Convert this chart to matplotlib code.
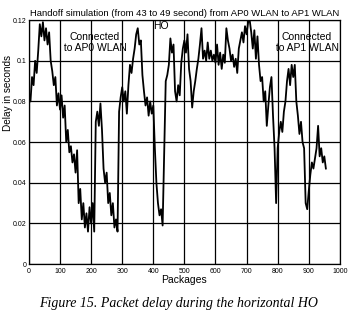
import numpy as np
import matplotlib
matplotlib.use("Agg")
import matplotlib.pyplot as plt

# packet index (every 5th package) and delay
packages = np.arange(0, 960, 5)
delay = [
    0.082, 0.080, 0.092, 0.088, 0.100, 0.094, 0.105, 0.118, 0.112, 0.119,
    0.110, 0.116, 0.108, 0.114, 0.100, 0.095, 0.088, 0.092, 0.078, 0.084,
    0.076, 0.083, 0.072, 0.078, 0.060, 0.066, 0.055, 0.058, 0.050, 0.054,
    0.045, 0.056, 0.030, 0.037, 0.022, 0.030, 0.018, 0.025, 0.016, 0.028,
    0.020, 0.030, 0.016, 0.070, 0.075, 0.068, 0.079, 0.066, 0.047, 0.040,
    0.045, 0.030, 0.035, 0.024, 0.030, 0.018, 0.022, 0.016, 0.075, 0.082,
    0.087, 0.080, 0.085, 0.074, 0.088, 0.098, 0.094, 0.101, 0.106, 0.113,
    0.116, 0.108, 0.110, 0.093, 0.085, 0.078, 0.082, 0.073, 0.080, 0.074,
    0.078, 0.057, 0.040, 0.030, 0.024, 0.027, 0.019, 0.054, 0.090, 0.093,
    0.098, 0.111, 0.104, 0.108, 0.085, 0.080, 0.088, 0.083, 0.099, 0.106,
    0.110, 0.104, 0.113, 0.096, 0.090, 0.077, 0.085, 0.090, 0.096, 0.101,
    0.108, 0.116, 0.101, 0.105, 0.100, 0.109, 0.101, 0.105, 0.100, 0.103,
    0.099, 0.108, 0.098, 0.104, 0.096, 0.103, 0.099, 0.116, 0.110, 0.106,
    0.100, 0.103, 0.097, 0.101, 0.094, 0.106, 0.110, 0.114, 0.109, 0.117,
    0.113, 0.119, 0.120, 0.114, 0.106, 0.115, 0.101, 0.112, 0.098, 0.090,
    0.092, 0.080, 0.085, 0.068, 0.078, 0.087, 0.092, 0.073, 0.057, 0.030,
    0.057, 0.065, 0.070, 0.065, 0.075, 0.080, 0.090, 0.096, 0.088, 0.098,
    0.092, 0.098, 0.080, 0.073, 0.064, 0.070, 0.060, 0.057, 0.030, 0.027,
    0.036, 0.044, 0.050, 0.047, 0.052, 0.057, 0.068, 0.053, 0.057, 0.050,
    0.053, 0.047,
]

xticks = np.arange(0, 1001, 100)
yticks = [0, 0.02, 0.04, 0.06, 0.08, 0.1, 0.12]
ytick_labels = ["0", "0.02", "0.04", "0.06", "0.08", "0.1", "0.12"]

plt.rcParams["font.family"] = ["Liberation Sans", "DejaVu Sans"]

fig = plt.figure(figsize=(3.57, 3.19), dpi=100)
ax = fig.add_axes([0.081, 0.172, 0.871, 0.765])

ax.plot(packages, delay, color="black", linewidth=1.3)

ax.set_xlim(0, 1000)
ax.set_ylim(0, 0.12)
ax.set_xticks(xticks)
ax.set_yticks(yticks)
ax.set_yticklabels(ytick_labels)
ax.tick_params(length=0, labelsize=5, pad=2)
ax.tick_params(axis="x", pad=3)
ax.grid(True, color="black", linewidth=0.9)
for s in ax.spines.values():
    s.set_linewidth(0.9)

ax.set_title("Handoff simulation (from 43 to 49 second) from AP0 WLAN to AP1 WLAN",
             fontsize=6.8, pad=3)
ax.set_xlabel("Packages", fontsize=7.5, labelpad=0)
# the y label sits high on the left, running over the tick labels
ax.set_ylabel("Delay in seconds", fontsize=7.2)
ax.yaxis.set_label_coords(-0.052, 0.70)

ax.text(210, 0.109, "Connected\n to AP0 WLAN", fontsize=7.5, ha="center",
        va="center", linespacing=1.1)
ax.text(892, 0.109, "Connected\n to AP1 WLAN", fontsize=7.5, ha="center",
        va="center", linespacing=1.1)
ax.text(400, 0.117, "HO", fontsize=7.5, ha="left", va="center")

fig.text(0.5, 0.05, "Figure 15. Packet delay during the horizontal HO",
         fontsize=10, family="Liberation Serif", style="italic",
         ha="center", va="center")

fig.savefig("out.png", dpi=100)
